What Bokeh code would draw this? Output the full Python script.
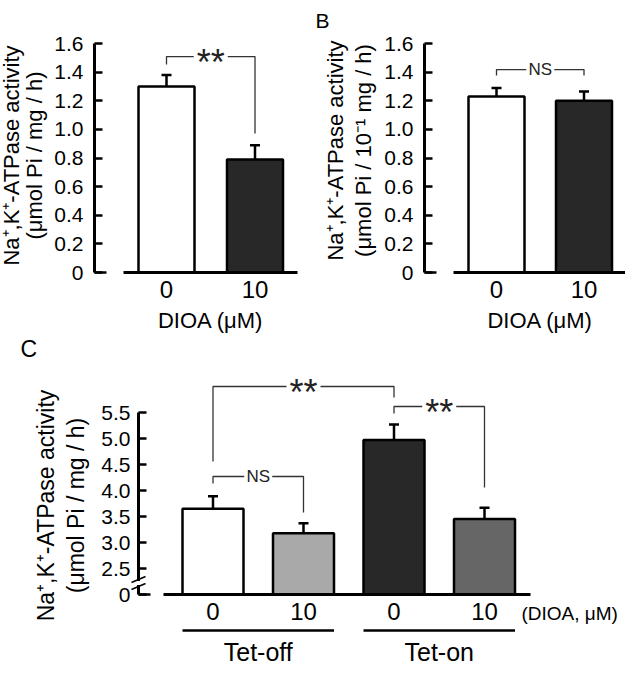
import math
from bokeh.plotting import figure
from bokeh.layouts import column, row
from bokeh.models import (ColumnDataSource, Range1d, FixedTicker, Whisker,
                          TeeHead, Label, Arrow)
from bokeh.embed import file_html
from bokeh.resources import INLINE

FONT = "Liberation Sans"

# ---------------- data ----------------
a_doses = ["0", "10"]
a_values = [1.30, 0.79]
a_errors = [0.08, 0.10]

b_doses = ["0", "10"]
b_values = [1.23, 1.20]
b_errors = [0.06, 0.065]

c_doses = ["0", "10", "0", "10"]
c_groups = ["Tet-off", "Tet-on"]
c_values = [3.65, 3.18, 4.97, 3.45]
c_errors = [0.24, 0.19, 0.30, 0.22]

ab_yticks = [0.0, 0.2, 0.4, 0.6, 0.8, 1.0, 1.2, 1.4, 1.6]
ab_ytick_labels = ["0", "0.2", "0.4", "0.6", "0.8", "1.0", "1.2", "1.4", "1.6"]
c_yticks = [2.5, 3.0, 3.5, 4.0, 4.5, 5.0, 5.5]
c_ytick_labels = ["2.5", "3.0", "3.5", "4.0", "4.5", "5.0", "5.5"]

ab_colors = ["white", "#282828"]
c_colors = ["white", "#a9a9a9", "#282828", "#666666"]

# significance brackets: (left bar, right bar, left foot, top, right foot, text)
a_brackets = [(1, 2, 1.453, 1.509, 0.971, "**")]
b_brackets = [(1, 2, 1.377, 1.418, 1.377, "NS")]
c_brackets = [(1, 3, 4.558, 6.00, 5.788, "**"),
              (3, 4, 5.481, 5.615, 4.058, "**"),
              (1, 2, 4.135, 4.269, 3.577, "NS")]

C_FLOOR = 2.0   # display position of the broken axis "0"


class Geo:
    """maps page pixels of one panel to its data coordinates"""
    def __init__(self, page_x, page_y, width, height, axis_px,
                 first_center_px, xppu, floor_py, y0, yppu):
        self.width, self.height = width, height
        self.axis_px = axis_px
        self.c0, self.xppu = first_center_px, xppu
        self.floor_py, self.y0, self.yppu = floor_py, y0, yppu
        self.x_start, self.x_end = self.x(page_x), self.x(page_x + width)
        self.y_start, self.y_end = self.y(page_y + height), self.y(page_y)

    def x(self, px):
        return 1 + (px - self.c0) / self.xppu

    def y(self, py):
        return self.y0 + (self.floor_py - py) / self.yppu


def make_fig(g):
    p = figure(width=g.width, height=g.height,
               x_range=Range1d(g.x_start, g.x_end),
               y_range=Range1d(g.y_start, g.y_end),
               output_backend="svg", toolbar_location=None, tools="",
               min_border_left=0, min_border_right=0,
               min_border_top=0, min_border_bottom=0)
    p.outline_line_color = None
    p.grid.visible = False
    p.background_fill_color = "white"
    p.border_fill_color = "white"
    return p


def seg(p, x0, y0, x1, y1, color="black", lw=2.5):
    p.add_layout(Arrow(x_start=x0, y_start=y0, x_end=x1, y_end=y1, end=None,
                       line_color=color, line_width=lw))


def style_y(p, g, ticks, labels, bounds, standoff, size="21px"):
    ax = p.yaxis[0]
    ax.fixed_location = g.x(g.axis_px)
    ax.ticker = FixedTicker(ticks=ticks)
    ax.major_label_overrides = dict(zip(ticks, labels))
    ax.minor_tick_line_color = None
    ax.major_tick_in = 8
    ax.major_tick_out = 0
    ax.major_tick_line_width = 2.5
    ax.major_tick_line_color = "black"
    ax.axis_line_width = 3
    ax.axis_line_color = "black"
    ax.bounds = bounds
    ax.major_label_text_font = FONT
    ax.major_label_text_font_size = size
    ax.major_label_text_color = "black"
    ax.major_label_standoff = standoff
    # slightly longer zero tick, as in the original
    seg(p, g.x(g.axis_px), bounds[0], g.x(g.axis_px + 12), bounds[0], lw=2.5)


def style_x(p, floor, positions, labels, bounds, size="24px"):
    ax = p.xaxis[0]
    ax.fixed_location = floor
    ax.ticker = FixedTicker(ticks=positions)
    ax.major_label_overrides = dict(zip(positions, labels))
    ax.minor_tick_line_color = None
    ax.major_tick_line_color = None
    ax.major_tick_in = 0
    ax.major_tick_out = 0
    ax.axis_line_width = 3
    ax.axis_line_color = "black"
    ax.bounds = bounds
    ax.major_label_text_font = FONT
    ax.major_label_text_font_size = size
    ax.major_label_text_color = "black"
    ax.major_label_standoff = 8


def bars(p, positions, values, errors, colors, width, floor):
    src = ColumnDataSource(dict(x=positions, top=values,
                                upper=[v + e for v, e in zip(values, errors)],
                                color=colors))
    p.vbar(x="x", top="top", bottom=floor, width=width, source=src,
           fill_color="color", line_color="black", line_width=2.5)
    p.add_layout(Whisker(base="x", lower="top", upper="upper", source=src,
                         line_color="black", line_width=2.5,
                         upper_head=TeeHead(size=10, line_width=2.5, line_color="black"),
                         lower_head=None))


def text(p, x, y, txt, size, align="center", angle=0.0, color="black"):
    p.add_layout(Label(x=x, y=y, text=txt, angle=angle, text_align=align,
                       text_baseline="middle", text_font=FONT,
                       text_font_size=size, text_color=color))


def brackets(p, g, specs):
    for (xl, xr, yl, yt, yr, txt) in specs:
        half = (17 if txt == "**" else 14) / g.xppu
        xm = (xl + xr) / 2
        p.multi_line(xs=[[xl, xl, xm - half], [xm + half, xr, xr]],
                     ys=[[yl, yt, yt], [yt, yt, yr]],
                     line_color="#333333", line_width=1.3)
        if txt == "**":
            text(p, xm, yt - 6.0 / g.yppu, txt, "36px", color="#222222")
        else:
            text(p, xm, yt, txt, "17px", color="#222222")


def ylabel(p, g, line1, line2, x1, x2, yc, size):
    for txt, px in ((line1, x1), (line2, x2)):
        text(p, g.x(px), g.y(yc), txt, size, angle=math.pi / 2)


LINE1 = "Na\u207a,K\u207a-ATPase activity"
TOP_H = 336

# ---------------- panel A ----------------
gA = Geo(0, 0, 312, TOP_H, 94, 166, 88.5, 272, 0.0, 143.1)
pA = make_fig(gA)
posA = [1, 2]
wA = 56 / gA.xppu
bars(pA, posA, a_values, a_errors, ab_colors, wA, 0.0)
style_y(pA, gA, ab_yticks, ab_ytick_labels, (0.0, 1.6), 11)
style_x(pA, 0.0, posA, a_doses, (gA.x(123), gA.x(297)))
brackets(pA, gA, a_brackets)
ylabel(pA, gA, LINE1, "(\u03bcmol Pi / mg / h)", 11, 34, 155, "22px")
text(pA, 1.5, gA.y(320), "DIOA (\u03bcM)", "22px")

# ---------------- panel B ----------------
gB = Geo(312, 0, 313, TOP_H, 424, 496, 87.5, 272, 0.0, 143.1)
pB = make_fig(gB)
posB = [1, 2]
wB = 56 / gB.xppu
bars(pB, posB, b_values, b_errors, ab_colors, wB, 0.0)
style_y(pB, gB, ab_yticks, ab_ytick_labels, (0.0, 1.6), 11)
style_x(pB, 0.0, posB, b_doses, (gB.x(453), gB.x(630)))
brackets(pB, gB, b_brackets)
ylabel(pB, gB, LINE1, "(\u03bcmol Pi / 10\u207b\u00b9 mg / h)", 335, 363, 150, "22px")
text(pB, 1.5, gB.y(320), "DIOA (\u03bcM)", "22px")
text(pB, gB.x(315), gB.y(20), "B", "21px", align="left")

# ---------------- panel C ----------------
gC = Geo(0, TOP_H, 625, 676 - TOP_H, 138, 212.5, 90.5, 594, C_FLOOR, 52.0)
pC = make_fig(gC)
posC = [1, 2, 3, 4]
wC = 61 / gC.xppu
bars(pC, posC, c_values, c_errors, c_colors, wC, C_FLOOR)
style_y(pC, gC, [C_FLOOR] + c_yticks, ["0"] + c_ytick_labels, (C_FLOOR, 5.5), 8)
style_x(pC, C_FLOOR, posC, c_doses, (gC.x(163), gC.x(530)))
brackets(pC, gC, c_brackets)
ylabel(pC, gC, LINE1, "(\u03bcmol Pi / mg / h)", 45, 75, 505, "23px")

# axis break
xa = gC.x(gC.axis_px)
seg(pC, xa, gC.y(580.5), xa, gC.y(584.5), color="white", lw=7)
for py in (579, 586):
    seg(pC, gC.x(gC.axis_px - 7), gC.y(py + 3), gC.x(gC.axis_px + 7), gC.y(py - 3), lw=1.6)

# group underlines and labels
for gi, name in enumerate(c_groups):
    xl = posC[2 * gi] - wC / 2
    xr = posC[2 * gi + 1] + wC / 2
    seg(pC, xl, gC.y(630), xr, gC.y(630), lw=2.5)
    text(pC, (posC[2 * gi] + posC[2 * gi + 1]) / 2, gC.y(651), name, "25px")
text(pC, gC.x(521), gC.y(613), "(DIOA, \u03bcM)", "19px", align="left")
text(pC, gC.x(20), gC.y(348), "C", "23px", align="left")

layout = column(row(pA, pB, spacing=0), pC, spacing=0)
open("out.html", "w").write(file_html(layout, INLINE))
